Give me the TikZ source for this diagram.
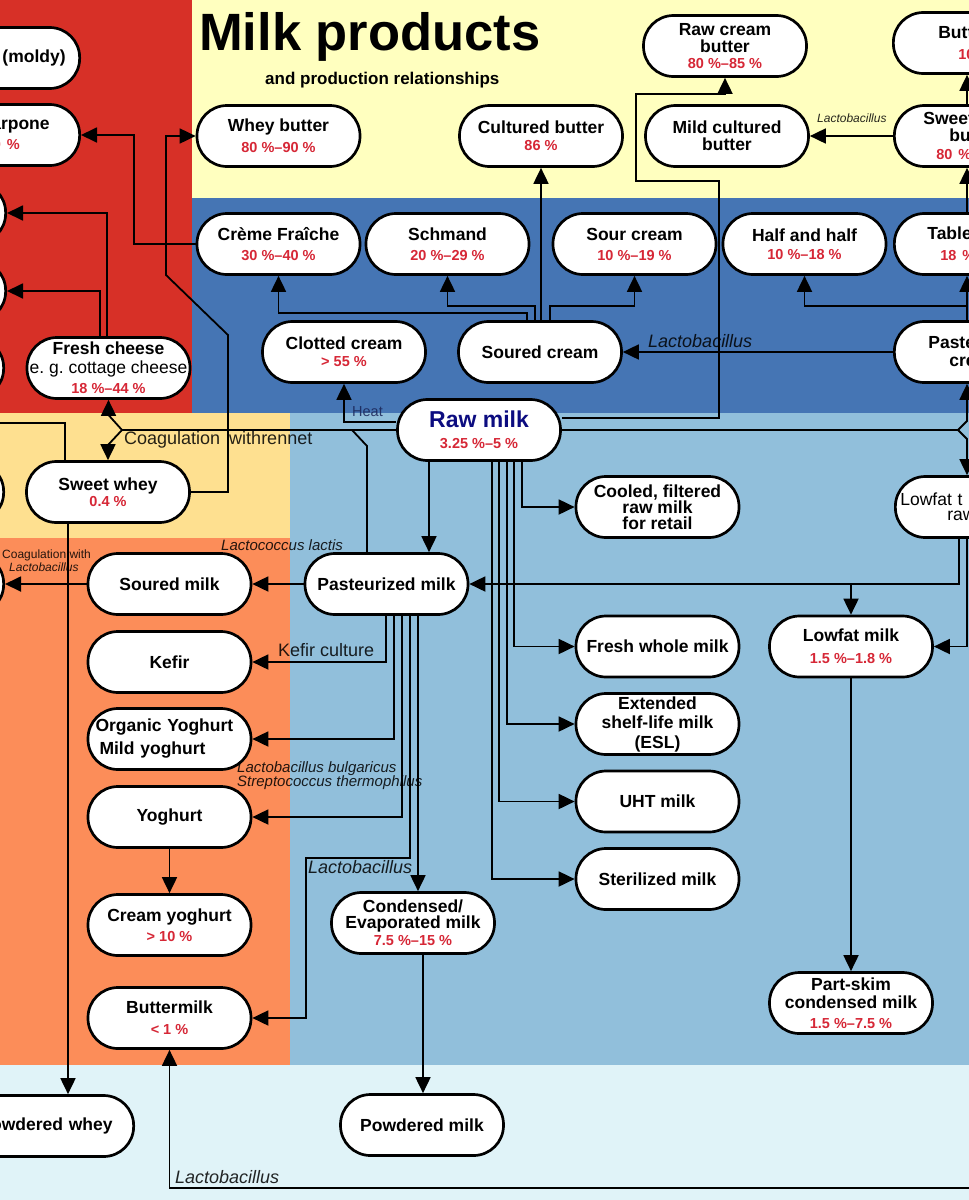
\documentclass[tikz,border=0pt]{standalone}
\usepackage{fontspec}
\setmainfont{Liberation Sans}
\usetikzlibrary{arrows.meta}
\definecolor{cRed}{HTML}{D73027}
\definecolor{cOrange}{HTML}{FC8D59}
\definecolor{cWhey}{HTML}{FEE090}
\definecolor{cPale}{HTML}{FFFFBF}
\definecolor{cVLBlue}{HTML}{E0F3F8}
\definecolor{cLBlue}{HTML}{91BFDB}
\definecolor{cBlue}{HTML}{4575B4}
\definecolor{pcred}{RGB}{214,39,54}
\definecolor{rawblue}{RGB}{12,12,128}
\definecolor{heatblue}{RGB}{25,35,85}
\newcommand{\pcnt}[1]{{\color{pcred}\fontsize{14.5}{17}\selectfont #1}}
\newcommand{\nodefnt}{\bfseries\fontsize{17.5}{21}\selectfont}
\begin{document}
\begin{tikzpicture}[x=1pt,y=-1pt,
 pill/.style={draw=black, line width=2.7pt, fill=white, rounded corners=30pt, minimum width=163pt, minimum height=61pt, inner sep=0pt, align=center, font=\nodefnt},
 cutl/.style={pill, anchor=east, minimum width=220pt, align=right},
 cutr/.style={pill, anchor=west, minimum width=220pt, align=left},
 arr/.style={line width=1.8pt, -{Triangle[length=16pt,width=15pt]}},
 ln/.style={line width=1.8pt},
 lab/.style={font=\fontsize{18}{18}\selectfont, text opacity=0.85, inner sep=0pt},
 ilab/.style={lab, font=\itshape\fontsize{18}{18}\selectfont},
]
\useasboundingbox (0,0) rectangle (969,1200);
\clip (0,0) rectangle (969,1200);
% backgrounds
\fill[cRed] (0,0) rectangle (192,413);
\fill[cPale] (192,0) rectangle (969,198);
\fill[cBlue] (192,198) rectangle (969,413);
\fill[cWhey] (0,413) rectangle (290,538);
\fill[cLBlue] (290,413) rectangle (969,1065);
\fill[cOrange] (0,538) rectangle (290,1065);
\fill[cVLBlue] (0,1065) rectangle (969,1200);
% title
\node[anchor=base west, inner sep=0pt, font=\bfseries\fontsize{52.5}{52.5}\selectfont] (title) at (199,50) {Milk products};
\node[anchor=base west, inner sep=0pt, font=\bfseries\fontsize{17}{17}\selectfont] (subtitle) at (265,84) {and production relationships};
% butter row
\node[pill] (wheybutter) at (278.5,136) {Whey butter\\\pcnt{80 \%–90 \%}};
\node[pill] (cultured) at (541,136) {Cultured butter\\[-4pt]\pcnt{86 \%}};
\node[pill] (rawcream) at (725,46) {Raw cream\\[-4pt]butter\\[-5pt]\pcnt{80 \%–85 \%}};
\node[pill] (mild) at (727,136) {Mild cultured\\[-4pt]butter};
\node[cutr, text width=130pt] (butt) at (892,43) {Butt\\\rule{20pt}{0pt}\pcnt{10}};
\node[cutr, text width=162pt] (sweet) at (893,136) {Sweet\\[-4pt]\rule{26pt}{0pt}bu\\[-3pt]\rule{13pt}{0pt}\pcnt{80 \%}};
% cream row
\node[pill] (creme) at (278.5,244) {Crème Fraîche\\[-1pt]\pcnt{30 \%–40 \%}};
\node[pill] (schmand) at (447.5,244) {Schmand\\[-1pt]\pcnt{20 \%–29 \%}};
\node[pill] (sourcream) at (634.5,244) {Sour cream\\[-1pt]\pcnt{10 \%–19 \%}};
\node[pill] (halfhalf) at (804.5,244) {Half and half\\[-3pt]\pcnt{10 \%–18 \%}};
\node[cutr, text width=154pt] (table) at (893,244) {Table\\\rule{13pt}{0pt}\pcnt{18 \%}};
\node[pill] (clotted) at (344,352) {Clotted cream\\[-4pt]\pcnt{> 55 \%}};
\node[pill] (soured) at (540,352) {Soured cream};
\node[cutr, text width=152pt] (pcream) at (893,352) {Paste\\[-3pt]\rule{21pt}{0pt}cre};
% left cut nodes
\node[cutl, text width=192pt] (moldy) at (81,58) {(moldy)};
\node[cutl, text width=160pt] (arpone) at (81,135) {arpone\\[-1pt]\pcnt{0 \%}\rule{30pt}{0pt}};
\node[cutl] (lA) at (7,213) {};
\node[cutl] (lB) at (7,291) {};
\node[cutl] (lC) at (5,368) {};
\node[cutl] (lD) at (5,492) {};
\node[cutl] (lE) at (5,584) {};
\node[pill] (fresh) at (108.5,368) {Fresh cheese\\[-2pt]{\mdseries e.\ g.\ cottage cheese}\\[-1pt]\pcnt{18 \%–44 \%}};
\node[pill] (sweetwhey) at (108,492) {Sweet whey\\[-5pt]\pcnt{0.4 \%}};
% milk
\node[pill] (raw) at (479,430) {{\color{rawblue}\fontsize{23}{23}\selectfont Raw milk}\\\pcnt{3.25 \%–5 \%}};
\node[pill] (past) at (386.5,584) {Pasteurized milk};
\node[pill] (souredmilk) at (169.5,584) {Soured milk};
\node[pill] (kefir) at (169.5,662) {Kefir};
\node[pill, align=left, text width=148pt] (organic) at (169.5,739) {Organic Yoghurt\\[2pt]\rule{4pt}{0pt}Mild yoghurt};
\node[pill] (yog) at (169.5,817) {Yoghurt};
\node[pill] (creamyog) at (169.5,925) {Cream yoghurt\\[-1pt]\pcnt{> 10 \%}};
\node[pill] (buttermilk) at (169.5,1018) {Buttermilk\\\pcnt{< 1 \%}};
\node[pill] (cooled) at (657.5,507) {Cooled, filtered\\[-5pt]raw milk\\[-5pt]for retail};
\node[pill] (freshwhole) at (657.5,646.5) {Fresh whole milk};
\node[pill] (esl) at (657.5,724) {Extended\\[-2pt]shelf-life milk\\[-1pt](ESL)};
\node[pill] (uht) at (657.5,801.5) {UHT milk};
\node[pill] (steril) at (657.5,879) {Sterilized milk};
\node[cutr, text width=210pt, font=\mdseries\fontsize{17.5}{21}\selectfont] (lowraw) at (894,507) {Lowfat t\\[-6pt]\rule{47pt}{0pt}raw};
\node[pill] (lowfat) at (851,646.5) {Lowfat milk\\[1pt]\pcnt{1.5 \%–1.8 \%}};
\node[pill] (partskim) at (851,1003) {Part-skim\\[-3pt]condensed milk\\[-1pt]\pcnt{1.5 \%–7.5 \%}};
\node[pill] (cond) at (413,923) {Condensed/\\[-5pt]Evaporated milk\\[-4pt]\pcnt{7.5 \%–15 \%}};
\node[pill] (powmilk) at (422,1125) {Powdered milk};
\node[cutl, text width=178pt] (powwhey) at (135,1126) {Powdered whey};
% connectors: red / cheese area
\draw[arr] (creme.west) -- ++(-62,0) |- (arpone.east);
\draw[arr] (sweetwhey.east) -| (228,335) -- (166,275) |- (wheybutter.west);
\draw[arr] (107,0 |- fresh.north) |- (lA.east);
\draw[arr] (100,0 |- fresh.north) |- (lB.east);
\coordinate (cf) at (122,430);
\draw[ln] (raw.west) -- (cf);
\draw[arr] (cf) -- (fresh.south |- 0,415) -- (fresh.south);
\draw[arr] (cf) -- (sweetwhey.north |- 0,445) -- (sweetwhey.north);
\draw[ln] (367,0 |- past.north) -- (367,446) -- (352,430);
\draw[ln] (65,0 |- sweetwhey.north) -- (65,423) -- (-5,423);
% raw milk
\draw[arr] ([yshift=8pt]raw.west) -| (clotted.south);
\draw[arr] (429,0 |- raw.south) -- (429,0 |- past.north);
\draw[arr] ([yshift=12pt]raw.east) -| (719,181) -| (636,94) -- (rawcream.south |- 0,94) -- (rawcream.south);
\coordinate (rf) at (958,430);
\draw[ln] (raw.east) -- (rf);
\draw[arr] (rf) -- (967,421) -- (967,0 |- pcream.south);
\draw[arr] (rf) -- (967,439) -- (967,0 |- lowraw.north);
\draw[arr] (522,0 |- raw.south) |- (cooled.west);
\draw[arr] (514,0 |- raw.south) |- (freshwhole.west);
\draw[arr] (507,0 |- raw.south) |- (esl.west);
\draw[arr] (499,0 |- raw.south) |- (uht.west);
\draw[arr] (492,0 |- raw.south) |- (steril.west);
% pasteurized milk
\draw[arr] (past.west) -- (souredmilk.east);
\draw[arr] (souredmilk.west) -- (lE.east);
\draw[arr] (386,0 |- past.south) |- (kefir.east);
\draw[arr] (394,0 |- past.south) |- (organic.east);
\draw[arr] (402,0 |- past.south) |- (yog.east);
\draw[arr] (410,0 |- past.south) |- (306,858) |- (buttermilk.east);
\draw[arr] (418,0 |- past.south) -- (418,0 |- cond.north);
% lowfat
\draw[arr] (959,0 |- lowraw.south) |- (past.east);
\draw[arr] (lowfat.north |- past.east) -- (lowfat.north);
\draw[arr] (967,0 |- lowraw.south) |- (lowfat.east);
\draw[arr] (lowfat) -- (partskim);
\draw[arr] (423,0 |- cond.south) -- (423,0 |- powmilk.north);
\draw[arr] (68,0 |- sweetwhey.south) -- (68,0 |- powwhey.north);
\coordinate (btm) at (975,1188);
\draw[arr] (btm) -| (buttermilk.south);
\draw[arr] (yog) -- (creamyog);
% cream
\draw[arr] (541,0 |- soured.north) -- (541,0 |- cultured.south);
\draw[arr] (527,0 |- soured.north) -- (527,313) -| (creme.south);
\draw[arr] (535,0 |- soured.north) -- (535,306) -| (schmand.south);
\draw[arr] (550,0 |- soured.north) -- (550,306) -| (sourcream.south);
\draw[arr] (pcream.west) -- (soured.east);
\draw[arr] (967,0 |- pcream.north) -- (967,306) -| (halfhalf.south);
\draw[arr] (967,0 |- pcream.north) -- (967,0 |- table.south);
\draw[arr] (sweet.west) -- (mild.east);
\draw[arr] (967,0 |- table.north) -- (967,0 |- sweet.south);
\draw[arr] (967,0 |- sweet.north) -- (967,0 |- butt.south);
% labels
\node[lab, anchor=west, font=\fontsize{14.5}{14.5}\selectfont, text=heatblue] (heat) at (352,412) {Heat};
\node[ilab, anchor=west] (lacb1) at (648,341) {Lactobacillus};
\node[ilab, anchor=west, font=\itshape\fontsize{12}{12}\selectfont] (lacb2) at (817,118) {Lactobacillus};
\node[lab, anchor=west] (coag) at (124,440) {Coagulation\hspace{4pt} withrennet};
\node[ilab, anchor=west, font=\itshape\fontsize{15}{15}\selectfont] (lacl) at (221,545) {Lactococcus lactis};
\node[lab, anchor=west] (kefc) at (278,650) {Kefir culture};
\node[ilab, anchor=north west, align=left, font=\itshape\fontsize{15}{14}\selectfont] (bulg) at (237,761) {Lactobacillus bulgaricus\\Streptococcus thermophilus};
\node[ilab, anchor=west] (lacb3) at (308,867) {Lactobacillus};
\node[ilab, anchor=west] (lacb4) at (175,1177) {Lactobacillus};
\node[lab, anchor=north west, align=left, font=\fontsize{12}{13}\selectfont] (coagl) at (2,550) {Coagulation with\\\rule{7pt}{0pt}\textit{Lactobacillus}};
\end{tikzpicture}
\end{document}
